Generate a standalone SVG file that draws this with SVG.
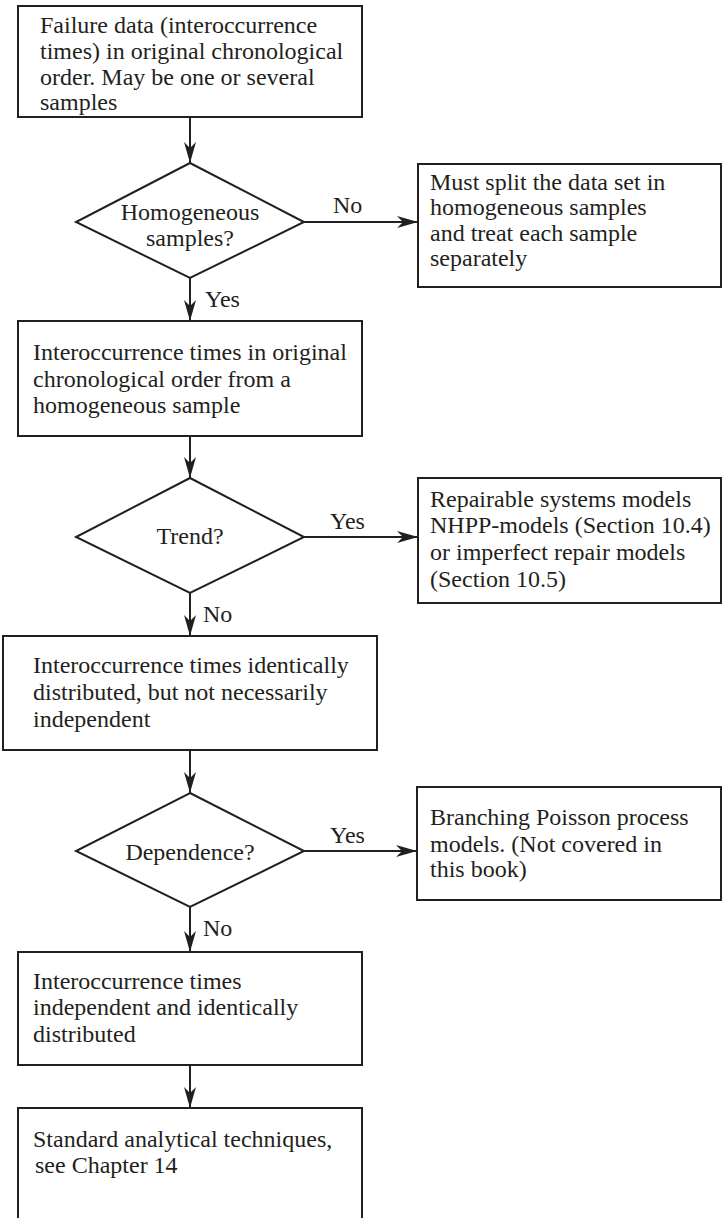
<svg xmlns="http://www.w3.org/2000/svg" width="724" height="1218" viewBox="0 0 724 1218">
  <style>
    .box { fill: #ffffff; stroke: #231f20; stroke-width: 2; }
    .edge { fill: none; stroke: #231f20; stroke-width: 2; }
    .t { font-family: "Liberation Serif", "Times New Roman", serif; font-size: 24px; fill: #231f20; }
    .c { text-anchor: middle; }
  </style>
  <defs>
    <marker id="arrow" markerUnits="userSpaceOnUse" markerWidth="22" markerHeight="14" refX="21" refY="7" orient="auto">
      <path d="M0,1 L21,7 L0,13 L6,7 Z" fill="#231f20"/>
    </marker>
  </defs>

  <rect width="724" height="1218" fill="#ffffff"/>

  <!-- connectors -->
  <g id="connectors">
    <line class="edge" x1="190" y1="117" x2="190" y2="163" marker-end="url(#arrow)"/>
    <line class="edge" x1="304" y1="222" x2="418" y2="222" marker-end="url(#arrow)"/>
    <text class="t" x="333" y="213">No</text>
    <line class="edge" x1="190" y1="278" x2="190" y2="321" marker-end="url(#arrow)"/>
    <text class="t" x="205" y="307">Yes</text>
    <line class="edge" x1="190" y1="436" x2="190" y2="478" marker-end="url(#arrow)"/>
    <line class="edge" x1="304" y1="537" x2="418" y2="537" marker-end="url(#arrow)"/>
    <text class="t" x="330" y="529">Yes</text>
    <line class="edge" x1="190" y1="593" x2="190" y2="636" marker-end="url(#arrow)"/>
    <text class="t" x="203" y="622">No</text>
    <line class="edge" x1="190" y1="750" x2="190" y2="793" marker-end="url(#arrow)"/>
    <line class="edge" x1="304" y1="851" x2="417" y2="851" marker-end="url(#arrow)"/>
    <text class="t" x="330" y="843">Yes</text>
    <line class="edge" x1="190" y1="907" x2="190" y2="952" marker-end="url(#arrow)"/>
    <text class="t" x="203" y="936">No</text>
    <line class="edge" x1="190" y1="1065" x2="190" y2="1108" marker-end="url(#arrow)"/>
  </g>

  <!-- start box -->
  <g id="failure-data">
    <rect class="box" x="18" y="6" width="344" height="111"/>
    <text class="t" x="40" y="33">Failure data (interoccurrence</text>
    <text class="t" x="40" y="59">times) in original chronological</text>
    <text class="t" x="40" y="85">order. May be one or several</text>
    <text class="t" x="40" y="110">samples</text>
  </g>

  <g id="homogeneous-decision">
    <polygon class="box" points="190,163 304,222 190,278 76,222"/>
    <text class="t c" x="190" y="220">Homogeneous</text>
    <text class="t c" x="190" y="246">samples?</text>
  </g>

  <g id="split-data">
    <rect class="box" x="418" y="164" width="303" height="123"/>
    <text class="t" x="430" y="190">Must split the data set in</text>
    <text class="t" x="430" y="215">homogeneous samples</text>
    <text class="t" x="430" y="241">and treat each sample</text>
    <text class="t" x="430" y="266">separately</text>
  </g>

  <g id="homogeneous-sample">
    <rect class="box" x="18" y="321" width="344" height="115"/>
    <text class="t" x="33" y="360">Interoccurrence times in original</text>
    <text class="t" x="33" y="387">chronological order from a</text>
    <text class="t" x="33" y="413">homogeneous sample</text>
  </g>

  <g id="trend-decision">
    <polygon class="box" points="190,478 304,537 190,593 76,537"/>
    <text class="t c" x="190" y="544">Trend?</text>
  </g>

  <g id="repairable-models">
    <rect class="box" x="418" y="478" width="303" height="125"/>
    <text class="t" x="430" y="507">Repairable systems models</text>
    <text class="t" x="430" y="533">NHPP-models (Section 10.4)</text>
    <text class="t" x="430" y="560">or imperfect repair models</text>
    <text class="t" x="430" y="587">(Section 10.5)</text>
  </g>

  <g id="identically-distributed">
    <rect class="box" x="3" y="636" width="374" height="114"/>
    <text class="t" x="33" y="673">Interoccurrence times identically</text>
    <text class="t" x="33" y="700">distributed, but not necessarily</text>
    <text class="t" x="33" y="727">independent</text>
  </g>

  <g id="dependence-decision">
    <polygon class="box" points="190,793 304,851 190,907 76,851"/>
    <text class="t c" x="190" y="860">Dependence?</text>
  </g>

  <g id="branching-poisson">
    <rect class="box" x="417" y="787" width="304" height="113"/>
    <text class="t" x="430" y="825">Branching Poisson process</text>
    <text class="t" x="430" y="852">models. (Not covered in</text>
    <text class="t" x="430" y="877">this book)</text>
  </g>

  <g id="iid">
    <rect class="box" x="18" y="952" width="344" height="113"/>
    <text class="t" x="33" y="989">Interoccurrence times</text>
    <text class="t" x="33" y="1015">independent and identically</text>
    <text class="t" x="33" y="1042">distributed</text>
  </g>

  <g id="standard-techniques">
    <rect class="box" x="18" y="1108" width="344" height="130"/>
    <text class="t" x="33" y="1147">Standard analytical techniques,</text>
    <text class="t" x="35" y="1173">see Chapter 14</text>
  </g>
</svg>
